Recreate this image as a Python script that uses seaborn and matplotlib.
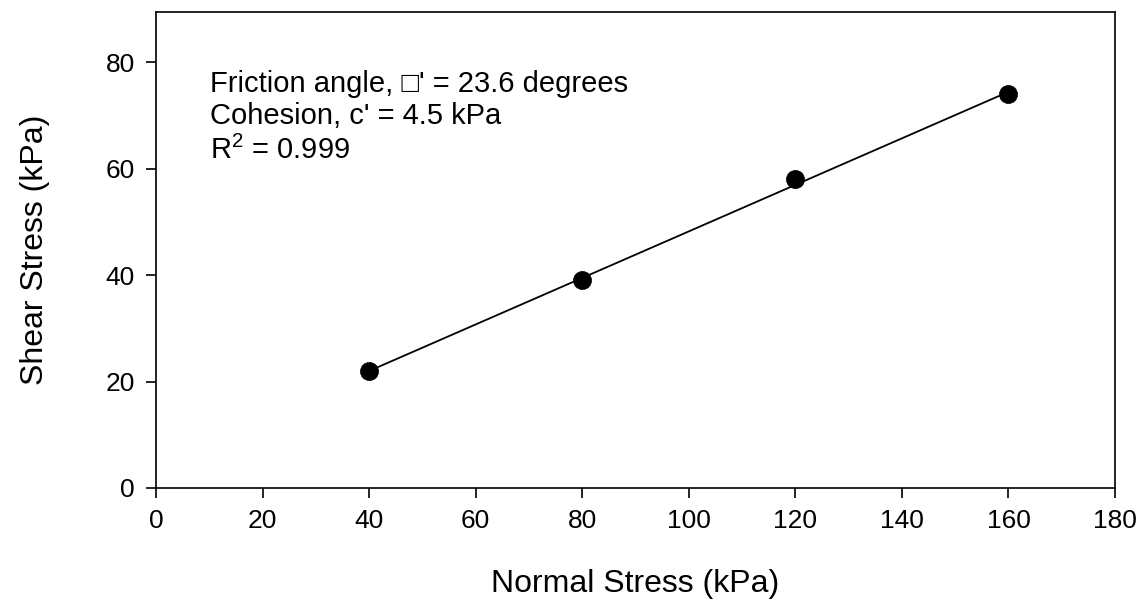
import matplotlib
matplotlib.use("Agg")
import matplotlib.pyplot as plt
import seaborn as sns
import numpy as np
import pandas as pd

normal_stress = [40, 80, 120, 160]
shear_stress = [22.0, 39.0, 58.0, 74.0]
friction_angle = 23.6
cohesion = 4.5
r_squared = 0.999
x_ticks = [0, 20, 40, 60, 80, 100, 120, 140, 160, 180]
y_ticks = [0, 20, 40, 60, 80]

sns.set_theme(style="white")
plt.rcParams['font.family'] = ['Liberation Sans', 'DejaVu Sans']
plt.rcParams['mathtext.fontset'] = 'custom'
plt.rcParams['mathtext.rm'] = 'Liberation Sans'
plt.rcParams['text.color'] = 'black'
plt.rcParams['axes.labelcolor'] = 'black'

df = pd.DataFrame({"x": normal_stress, "y": shear_stress})
fit_x = [normal_stress[0], normal_stress[-1]]
slope = np.tan(np.radians(friction_angle))
fit_df = pd.DataFrame({"x": fit_x, "y": [cohesion + slope * v for v in fit_x]})

fig = plt.figure(figsize=(11.45, 6.05), dpi=100)
ax = fig.add_axes([0.1362, 0.1934, 0.8376, 0.7868])

sns.lineplot(data=fit_df, x="x", y="y", ax=ax, color="black", linewidth=1.3)
sns.scatterplot(data=df, x="x", y="y", ax=ax, color="black", s=170,
                edgecolor="black", linewidth=0.5, zorder=3)

ax.set_xlim(0, 180)
ax.set_ylim(0, 89.4)
ax.set_xticks(x_ticks)
ax.set_yticks(y_ticks)
ax.tick_params(axis="both", direction="out", length=7, width=1.2,
               labelsize=19, colors="black", bottom=True, left=True, pad=8)
for s in ax.spines.values():
    s.set_color("black")
    s.set_linewidth(1.2)

ax.set_xlabel("Normal Stress (kPa)", fontsize=23, labelpad=26, color="black")
ax.set_ylabel("Shear Stress (kPa)", fontsize=23, labelpad=40, color="black")

ax.text(10.1, 74.4, "Friction angle, \u25a1' = %.1f degrees" % friction_angle,
        fontsize=21, va="baseline", ha="left", color="black")
ax.text(10.1, 68.4, "Cohesion, c' = %.1f kPa" % cohesion,
        fontsize=21, va="baseline", ha="left", color="black")
ax.text(10.1, 61.7, r"R$^{2}$ = %.3f" % r_squared,
        fontsize=21, va="baseline", ha="left", color="black")

fig.savefig("out.png", dpi=100)
